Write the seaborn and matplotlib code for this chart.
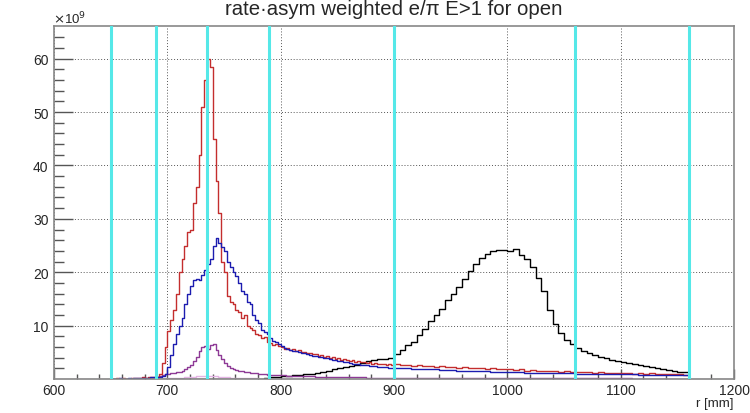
import numpy as np
import pandas as pd
import matplotlib
matplotlib.use("Agg")
import matplotlib.pyplot as plt
import seaborn as sns

# valores em unidades de 1e9
# parte fina: bins de 2.5 mm de 650 a 900; parte grossa: bins de 5 mm de 900 a 1160
fino_ini, fino_fim, fino_larg = 650, 900, 2.5
grosso_ini, grosso_fim, grosso_larg = 900, 1160, 5

vermelho_fino = [0.1, 0.1, 0.15, 0.1, 0.2, 0.1, 0.1, 0.2, 0.15, 0.25, 0.2, 0.3, 0.25, 0.3, 0.4, 0.35,
                 0.4, 1.0, 3.0, 6.0,
                 9, 11, 13, 16,
                 20, 22.5, 25, 27.5,
                 28, 33, 36, 42,
                 51, 56, 60, 58.5,
                 45, 37, 31, 22,
                 20, 15.5, 14.5, 14,
                 13, 12.5, 11.5, 12,
                 10, 9.5, 9.2, 8.5,
                 8.2, 7.6, 7.9, 7.0,
                 6.8, 6.4, 6.6, 6.1,
                 6.0, 5.7, 5.9, 5.5,
                 5.6, 5.3, 5.4, 5.0,
                 5.1, 4.8, 4.9, 4.6,
                 4.7, 4.4, 4.5, 4.2,
                 4.3, 4.0, 4.1, 3.8,
                 3.9, 3.6, 3.7, 3.5,
                 3.4, 3.5, 3.2, 3.3,
                 3.1, 3.2, 3.0, 3.1,
                 2.9, 3.0, 2.8, 2.9,
                 2.9, 2.7, 2.8, 2.7]
vermelho_grosso = [2.8, 2.6, 2.7, 2.5, 2.6, 2.4, 2.5, 2.3, 2.4, 2.2,
                   2.3, 2.1, 2.2, 2.0, 2.1, 2.0, 1.9, 2.0, 1.8, 1.9,
                   1.8, 1.7, 1.8, 1.6, 1.7, 1.6, 1.5, 1.6, 1.5, 1.4,
                   1.5, 1.4, 1.3, 1.4, 1.3, 1.2, 1.3, 1.2, 1.1, 1.2,
                   1.1, 1.2, 1.0, 1.1, 1.0, 1.1, 0.9, 1.0, 0.9, 1.0, 0.9, 0.8]

azul_fino = [0.1, 0.1, 0.1, 0.15, 0.1, 0.1, 0.15, 0.1, 0.15, 0.2, 0.15, 0.2, 0.2, 0.25, 0.3, 0.3,
             0.3, 0.4, 0.6, 1.0,
             2.2, 4.5, 6.5, 8.5,
             10, 11.5, 14, 16,
             17.5, 18.5, 18.8, 18.5,
             19.5, 20.5, 21.5, 22.5,
             25, 26.5, 25.5, 24.8,
             24, 22, 21, 20,
             19.3, 18, 16.5, 16,
             14.5, 14, 12, 11,
             10.5, 9.2, 8.8, 8.5,
             7.6, 7.2, 7.0, 6.6,
             6.2, 5.9, 5.7, 5.5,
             5.3, 5.2, 5.0, 4.9,
             4.8, 4.7, 4.5, 4.4,
             4.3, 4.2, 4.1, 4.0,
             3.9, 3.8, 3.6, 3.5,
             3.4, 3.3, 3.2, 3.1,
             3.0, 2.9, 2.9, 2.8,
             2.7, 2.6, 2.6, 2.5,
             2.4, 2.4, 2.3, 2.3,
             2.2, 2.2, 2.1, 2.1]
azul_grosso = [2.1, 2.0, 2.0, 1.9, 1.9, 1.9, 1.8, 1.8, 1.7, 1.7,
               1.7, 1.6, 1.6, 1.6, 1.5, 1.5, 1.5, 1.4, 1.4, 1.4,
               1.3, 1.3, 1.3, 1.2, 1.2, 1.2, 1.2, 1.1, 1.1, 1.1,
               1.1, 1.1, 1.0, 1.0, 1.0, 1.0, 1.0, 0.9, 0.9, 0.9,
               0.9, 0.9, 0.9, 0.8, 0.8, 0.8, 0.8, 0.8, 0.8, 0.7, 0.7, 0.7]

roxo_fino = [0.05, 0.05, 0.05, 0.05, 0.05, 0.05, 0.05, 0.05, 0.05, 0.05, 0.05, 0.05, 0.08, 0.1, 0.15, 0.2,
             0.3, 0.5, 0.7, 0.9,
             1.0, 1.1, 1.2, 1.25,
             1.35, 1.5, 1.8, 2.2,
             2.7, 3.3, 4.2, 5.2,
             6.0, 6.2, 5.6, 6.3,
             6.5, 5.5, 4.5, 3.7,
             3.0, 2.5, 2.1, 1.9,
             1.7, 1.6, 1.45, 1.35,
             1.25, 1.15, 1.1, 1.05,
             1.0, 0.95, 0.9, 0.85,
             0.8, 0.78, 0.75, 0.72,
             0.7, 0.67, 0.65, 0.62,
             0.6, 0.58, 0.56, 0.55,
             0.53, 0.52, 0.5, 0.49,
             0.47, 0.46, 0.45, 0.44,
             0.43, 0.42, 0.41, 0.4,
             0.39, 0.38, 0.37, 0.36,
             0.35, 0.34, 0.33, 0.32,
             0.31, 0.3, 0.29, 0.28,
             0.27, 0.26, 0.26, 0.25,
             0.25, 0.24, 0.24, 0.23]
roxo_grosso = [0.23, 0.23, 0.22, 0.22, 0.21, 0.21, 0.2, 0.2, 0.2, 0.19,
               0.19, 0.18, 0.18, 0.18, 0.17, 0.17, 0.17, 0.16, 0.16, 0.16,
               0.15, 0.15, 0.15, 0.15, 0.14, 0.14, 0.14, 0.14, 0.13, 0.13,
               0.13, 0.13, 0.12, 0.12, 0.12, 0.12, 0.12, 0.11, 0.11, 0.11,
               0.11, 0.11, 0.1, 0.1, 0.1, 0.1, 0.1, 0.1, 0.1, 0.1, 0.1, 0.1]

# preto: bins de 5 mm de 650 a 1160
preto_ini, preto_fim, preto_larg = 650, 1160, 5
preto = [0] * 22 + [0.02, 0.04, 0.06, 0.08,
         0.1, 0.2, 0.3, 0.4, 0.5, 0.6, 0.7, 0.8, 0.9, 1.0, 1.2, 1.4,
         1.6, 1.8, 2.0, 2.2, 2.4, 2.7, 3.0, 3.3, 3.5, 3.7, 3.8, 4.0,
         4.7, 5.5, 6.3, 7.0, 8.3, 9.4, 10.8, 12.0, 13.2, 14.8,
         16.0, 17.2, 18.8, 20.3, 21.5, 22.6, 23.4, 24.0, 24.1, 24.2,
         24.0, 24.3, 23.3, 22.5, 21.0, 19.0, 16.5, 13.0, 10.3, 8.6,
         7.4, 6.5, 5.9, 5.3, 4.9, 4.5, 4.2, 3.9, 3.6, 3.4,
         3.2, 3.0, 2.8, 2.6, 2.4, 2.2, 2.0, 1.9, 1.7, 1.6, 1.4, 1.3]

# rosa cobre o eixo inteiro (600 a 1200), bins de 5 mm
rosa_ini, rosa_fim, rosa_larg = 600, 1200, 5
rosa = [0] * 10 + [0.02] * 8 + [0.05, 0.1,
        0.15, 0.2, 0.25, 0.3, 0.4, 0.5, 0.6, 0.6, 0.5, 0.4,
        0.3, 0.25, 0.2, 0.18, 0.15, 0.12, 0.1, 0.1, 0.08, 0.08] + [0.05] * 72 + [0] * 8

linhas_cyan = [650, 690, 735, 790, 900, 1060, 1160]

titulo = "rate\u00b7asym weighted e/\u03c0 E>1 for open"

sns.set_style("white")
plt.rcParams['font.family'] = ['Liberation Sans', 'DejaVu Sans']

fig = plt.figure(figsize=(7.5, 4.14), dpi=100)
ax = fig.add_axes([0.072, 0.082, 0.9067, 0.8527])

cor_vermelho = "#c42e2e"
cor_azul = "#1c1cb0"
cor_roxo = "#8e3a96"

series = [
    (rosa_ini, rosa_fim, rosa_larg, rosa, "#e4b4e4"),
    (preto_ini, preto_fim, preto_larg, preto, "black"),
    (fino_ini, fino_fim, fino_larg, roxo_fino, cor_roxo),
    (grosso_ini, grosso_fim, grosso_larg, roxo_grosso, cor_roxo),
    (fino_ini, fino_fim, fino_larg, vermelho_fino, cor_vermelho),
    (grosso_ini, grosso_fim, grosso_larg, vermelho_grosso, cor_vermelho),
    (fino_ini, fino_fim, fino_larg, azul_fino, cor_azul),
    (grosso_ini, grosso_fim, grosso_larg, azul_grosso, cor_azul),
]
for ini, fim, larg, vals, cor in series:
    centros = np.arange(len(vals)) * larg + ini + larg / 2
    df = pd.DataFrame({"r": centros, "w": vals})
    sns.histplot(data=df, x="r", weights="w", bins=len(vals), binrange=(ini, fim),
                 element="step", fill=False, color=cor, linewidth=1.0, ax=ax)

for xc in linhas_cyan:
    ax.axvline(xc, color="#55e8e8", linewidth=2.2, zorder=5)

ax.set_xlim(600, 1200)
ax.set_ylim(0, 66.1)
ax.set_xticks(np.arange(600, 1201, 100))
ax.set_xticks(np.arange(600, 1201, 20), minor=True)
ax.set_yticks(np.arange(10, 61, 10))
ax.set_yticks(np.arange(2, 66, 2), minor=True)
ax.grid(True, which="major", linestyle=(0, (1, 2)), color="#555555", linewidth=0.7)
ax.set_axisbelow(True)

ax.tick_params(axis="y", which="major", direction="in", length=13.5, width=1, color="#555555",
               labelsize=10, pad=4, left=True, right=False)
ax.tick_params(axis="y", which="minor", direction="in", length=7, width=1, color="#555555", left=True)
ax.tick_params(axis="x", which="major", direction="in", length=7, width=1, color="#555555",
               labelsize=10, pad=3, bottom=True, top=False)
ax.tick_params(axis="x", which="minor", direction="in", length=3.6, width=1, color="#555555", bottom=True)

for sp in ax.spines.values():
    sp.set_color("#888888")
    sp.set_linewidth(1.2)

ax.set_ylabel("")
ax.set_xlabel("")
fig.text(734 / 750, 1 - 407 / 414, "r [mm]", ha="right", va="baseline", fontsize=9.5)

fig.text(0.5253, 1 - 15 / 414, titulo, ha="center", va="baseline", fontsize=14.7)
fig.text(0.070, 1 - 24 / 414, r"$\times$10$^{9}$", ha="left", va="baseline", fontsize=9.5)

fig.savefig("out.png", dpi=100)
